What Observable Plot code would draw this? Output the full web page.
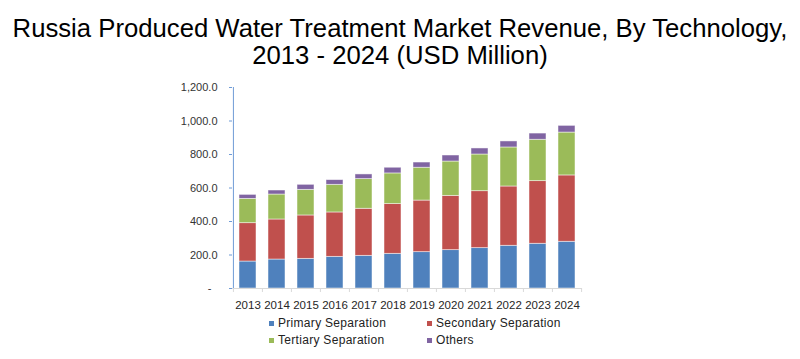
<!DOCTYPE html>
<html>
<head>
<meta charset="utf-8">
<script src="https://cdn.jsdelivr.net/npm/d3@7"></script>
<script src="https://cdn.jsdelivr.net/npm/@observablehq/plot@0.6"></script>
<style>
  html, body { margin: 0; padding: 0; background: #fff; }
  #wrap { width: 800px; height: 359px; position: relative; overflow: hidden; font-family: "Liberation Sans", Arial, sans-serif; }
  #title { height: 72px; text-align: center; font-size: 25.7px; line-height: 27px; color: #000; padding-top: 15px; box-sizing: border-box; white-space: nowrap; }
  #legend { position: absolute; left: 0; top: 312px; width: 800px; height: 47px; font-size: 12px; color: #222; }
  .item { position: absolute; display: flex; align-items: center; white-space: nowrap; letter-spacing: 0.3px; }
  .sw { width: 5px; height: 5px; margin-right: 4px; display: inline-block; }
</style>
</head>
<body>
<div id="wrap">
  <div id="title">Russia Produced Water Treatment Market Revenue, By Technology,<br>2013 - 2024 (USD Million)</div>
  <div id="chart"></div>
  <div id="legend"></div>
</div>
<script>
const years = ["2013","2014","2015","2016","2017","2018","2019","2020","2021","2022","2023","2024"];
const seriesNames = ["Primary Separation", "Secondary Separation", "Tertiary Separation", "Others"];
const primary   = [161, 173, 177, 189, 195, 207, 217, 229, 241, 255, 267, 279];
const secondary = [229, 239, 259, 265, 281, 297, 308, 324, 340, 354, 374, 396];
const tertiary  = [145, 149, 153, 165, 177, 183, 196, 205, 219, 233, 247, 256];
const others    = [ 24,  24,  30,  28,  28,  34,  31,  36,  36,  36,  37,  40];
const yTicks = [0, 200, 400, 600, 800, 1000, 1200];
const colors = ["#4f81bd", "#c0504d", "#9bbb59", "#8064a2"];

const seriesValues = [primary, secondary, tertiary, others];
const rows = [];
seriesNames.forEach((s, si) => years.forEach((y, i) => rows.push({year: y, series: s, value: seriesValues[si][i]})));

const fmt = d => d === 0 ? "-\u00a0\u00a0" : d3.format(",.1f")(d);
const half = 350 / 24;

const plot = Plot.plot({
  width: 800,
  height: 240,
  marginTop: 15,
  marginBottom: 24,
  marginLeft: 232,
  marginRight: 218,
  style: {fontFamily: "Liberation Sans, Arial, sans-serif", fontSize: "11px", color: "#333333", background: "transparent"},
  x: {domain: years, paddingInner: 0.43, paddingOuter: 0.215, label: null},
  y: {domain: [0, 1200], label: null},
  color: {domain: seriesNames, range: colors},
  marks: [
    Plot.barY(rows, Plot.stackY({order: seriesNames, x: "year", y: "value", fill: "series", stroke: "#ffffff", strokeOpacity: 0.6, strokeWidth: 0.8})),
    Plot.ruleY([0], {stroke: "#d9d9d9", strokeWidth: 1}),
    Plot.ruleX(years, {x: d => d, y1: 0, y2: 0, insetBottom: -4, dx: -half, stroke: "#d9d9d9"}),
    Plot.ruleX(years.slice(-1), {x: d => d, y1: 0, y2: 0, insetBottom: -4, dx: half, stroke: "#d9d9d9"}),
    Plot.ruleX(years.slice(0, 1), {x: d => d, y1: 0, y2: 1200, dx: -half, stroke: "#6f9bd6", strokeWidth: 1}),
    Plot.axisY({ticks: yTicks, tickFormat: fmt, tickSize: 3, tickPadding: 12, stroke: "#6f9bd6", fill: "#333333", label: null}),
    Plot.axisX({tickSize: 0, tickPadding: 12, fill: "#262626", label: null, fontSize: 11.5})
  ]
});
document.getElementById("chart").appendChild(plot);

const legend = document.getElementById("legend");
const legendPos = [[269, 4], [427, 4], [269, 21], [427, 21]];
seriesNames.forEach((s, i) => {
  const el = document.createElement("div");
  el.className = "item";
  el.style.left = legendPos[i][0] + "px";
  el.style.top = legendPos[i][1] + "px";
  const sw = document.createElement("span");
  sw.className = "sw";
  sw.style.background = colors[i];
  el.appendChild(sw);
  el.appendChild(document.createTextNode(s));
  legend.appendChild(el);
});
</script>
</body>
</html>
